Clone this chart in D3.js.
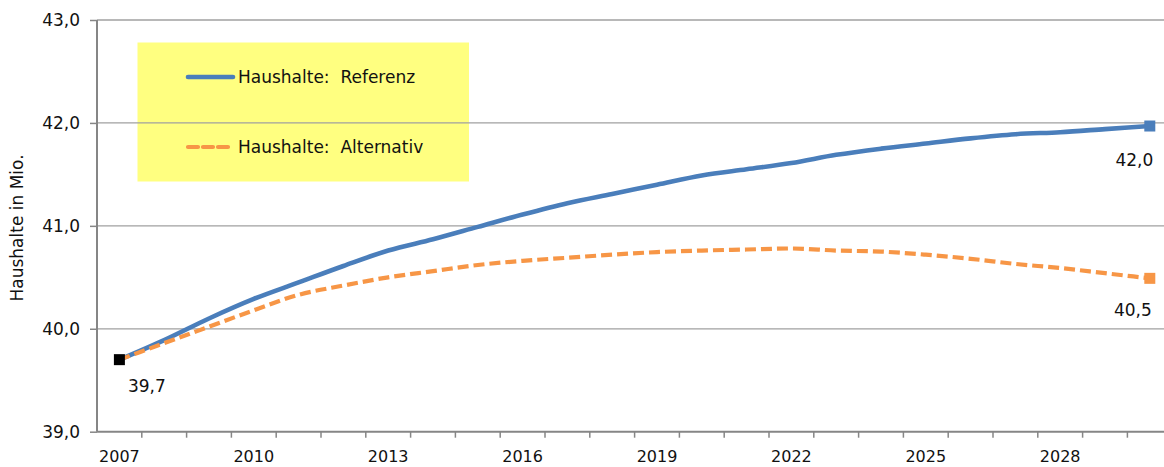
<!DOCTYPE html>
<html>
<head>
<meta charset="utf-8">
<script src="https://cdnjs.cloudflare.com/ajax/libs/d3/7.8.5/d3.min.js"></script>
<style>
  html, body { margin: 0; padding: 0; background: #fff; }
  svg { display: block; font-family: "DejaVu Sans", Verdana, sans-serif; }
</style>
</head>
<body>
<svg id="chart" width="1164" height="467"></svg>
<script>
// ---- data ----
const years = d3.range(2007, 2031);
const labelYears = [2007, 2010, 2013, 2016, 2019, 2022, 2025, 2028];
const referenz = [39.70, 39.89, 40.10, 40.29, 40.45, 40.61, 40.76, 40.87, 40.99, 41.11, 41.22, 41.31,
                  41.40, 41.49, 41.55, 41.61, 41.69, 41.75, 41.80, 41.85, 41.89, 41.91, 41.94, 41.97];
const alternativ = [39.70, 39.86, 40.02, 40.18, 40.33, 40.42, 40.50, 40.56, 40.62, 40.66, 40.69, 40.72,
                    40.745, 40.76, 40.77, 40.78, 40.76, 40.75, 40.72, 40.68, 40.63, 40.59, 40.54, 40.49];
const yTicks = [39, 40, 41, 42, 43];
const seriesNames = ["Haushalte:  Referenz", "Haushalte:  Alternativ"];
const yTitle = "Haushalte in Mio.";
const labelStart = "39,7";
const labelEndRef = "42,0";
const labelEndAlt = "40,5";

const blue = "#4a7ebb", orange = "#f79646";
const svg = d3.select("#chart");

const x = d3.scaleBand().domain(years).range([97, 97 + 24 * 44.8]).paddingInner(0).paddingOuter(0);
const y = d3.scaleLinear().domain([39, 43]).range([431.7, 20]);
const cx = d => x(d) + x.bandwidth() / 2;

// legend box (under gridlines)
svg.append("rect").attr("x", 137.5).attr("y", 42.5).attr("width", 331.5).attr("height", 139)
  .attr("fill", "#ffff80");

// gridlines
svg.append("g").selectAll("line").data(yTicks.filter(t => t > 39)).join("line")
  .attr("x1", 97).attr("x2", 1164).attr("y1", d => y(d)).attr("y2", d => y(d))
  .attr("stroke", "#a0a0a0").attr("stroke-width", 1.3);

// y axis
const yAxis = d3.axisLeft(y).tickValues(yTicks).tickSize(7).tickPadding(10)
  .tickFormat(d => d3.format(".1f")(d).replace(".", ","));
const gy = svg.append("g").attr("transform", "translate(97,0)").call(yAxis);
gy.select(".domain").attr("stroke", "#868686").attr("stroke-width", 2).attr("d", `M0,${y(43)}V${y(39)}`);
gy.selectAll(".tick line").attr("stroke", "#868686").attr("stroke-width", 1.5);
gy.selectAll(".tick text").attr("font-size", 17).attr("fill", "#111").attr("font-family", "DejaVu Sans, Verdana, sans-serif");

// x axis
const gx = svg.append("g").attr("transform", `translate(0,${y(39)})`);
gx.append("line").attr("x1", 97).attr("x2", 1164).attr("stroke", "#868686").attr("stroke-width", 2);
gx.selectAll("line.tk").data(years.slice(1)).join("line").attr("class", "tk")
  .attr("x1", d => x(d)).attr("x2", d => x(d)).attr("y1", 0).attr("y2", 6)
  .attr("stroke", "#868686").attr("stroke-width", 1.5);
gx.selectAll("text").data(labelYears).join("text")
  .attr("x", d => cx(d)).attr("y", 30.5).attr("text-anchor", "middle")
  .attr("font-size", 16).attr("fill", "#111").text(d => d);

// y title
svg.append("text").attr("transform", "translate(23,228) rotate(-90)")
  .attr("text-anchor", "middle").attr("font-size", 17).attr("fill", "#111").text(yTitle);

// lines
const line = d3.line().x((d, i) => cx(years[i])).y(d => y(d)).curve(d3.curveMonotoneX);
svg.append("path").datum(referenz).attr("d", line).attr("fill", "none")
  .attr("stroke", blue).attr("stroke-width", 4.6).attr("stroke-linejoin", "round");
svg.append("path").datum(alternativ).attr("d", line).attr("fill", "none")
  .attr("stroke", orange).attr("stroke-width", 4.2).attr("stroke-dasharray", "11,5");

// markers
const ms = 11;
const last = years.length - 1;
svg.append("rect").attr("x", cx(years[0]) - ms / 2).attr("y", y(referenz[0]) - ms / 2)
  .attr("width", ms).attr("height", ms).attr("fill", "#000");
svg.append("rect").attr("x", cx(years[last]) - ms / 2).attr("y", y(referenz[last]) - ms / 2)
  .attr("width", ms).attr("height", ms).attr("fill", blue);
svg.append("rect").attr("x", cx(years[last]) - ms / 2).attr("y", y(alternativ[last]) - ms / 2)
  .attr("width", ms).attr("height", ms).attr("fill", orange);

// data labels
svg.append("text").attr("x", cx(years[0]) + 8.5).attr("y", y(referenz[0]) + 32.5)
  .attr("font-size", 17).attr("fill", "#111").text(labelStart);
svg.append("text").attr("x", cx(years[last]) + 3.5).attr("y", y(referenz[last]) + 39.5)
  .attr("text-anchor", "end").attr("font-size", 17).attr("fill", "#111").text(labelEndRef);
svg.append("text").attr("x", cx(years[last]) + 2).attr("y", y(alternativ[last]) + 38)
  .attr("text-anchor", "end").attr("font-size", 17).attr("fill", "#111").text(labelEndAlt);

// legend content
const lg = svg.append("g");
lg.append("line").attr("x1", 188).attr("x2", 233).attr("y1", 77).attr("y2", 77)
  .attr("stroke", blue).attr("stroke-width", 4.6).attr("stroke-linecap", "round");
lg.append("line").attr("x1", 188).attr("x2", 230).attr("y1", 147).attr("y2", 147)
  .attr("stroke", orange).attr("stroke-width", 4.2).attr("stroke-dasharray", "10,5").attr("stroke-linecap", "round");
lg.append("text").attr("x", 238).attr("y", 83).attr("font-size", 17).attr("fill", "#111")
  .attr("xml:space", "preserve").style("white-space", "pre").text(seriesNames[0]);
lg.append("text").attr("x", 238).attr("y", 153).attr("font-size", 17).attr("fill", "#111")
  .attr("xml:space", "preserve").style("white-space", "pre").text(seriesNames[1]);
</script>
</body>
</html>
